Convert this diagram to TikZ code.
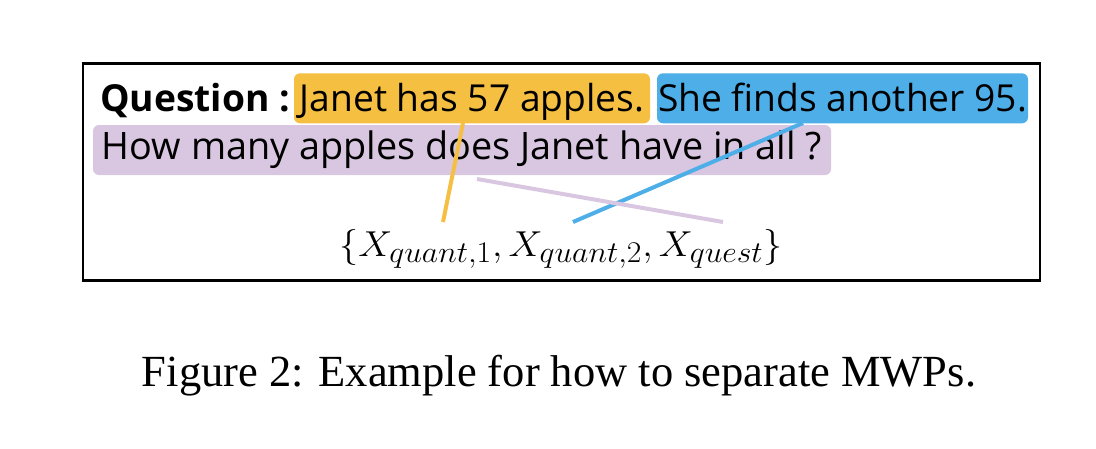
\documentclass[tikz,border=0pt]{standalone}
\usepackage{fontspec}
\setmainfont{Liberation Serif}
\newfontfamily\boxfont{Open Sans}
\usetikzlibrary{calc}
\definecolor{qorange}{RGB}{245,191,65}
\definecolor{qblue}{RGB}{77,174,232}
\definecolor{qpurple}{RGB}{217,199,226}
\tikzset{
  hl/.style={rounded corners=6pt, inner xsep=0pt, inner ysep=0pt, text depth=0pt,
    font=\boxfont\fontsize{37.2}{40}\selectfont},
  link/.style={line width=4pt},
}
\begin{document}
\begin{tikzpicture}[x=1pt,y=-1pt]
\useasboundingbox (0,0) rectangle (1096,448);
\node[draw, line width=2.5pt, minimum width=957pt, minimum height=217pt, inner sep=0pt] (frame) at (561.5,172) {};
\node[hl, fill=qorange, minimum width=356pt, minimum height=50pt, text height=26.8pt] (s1) at (472,98.3) {Janet has 57 apples.};
\node[hl, fill=qblue, minimum width=371pt, minimum height=50pt, text height=26.8pt] (s2) at (842.5,98.3) {She finds another 95.};
\node[hl, fill=qpurple, minimum width=738pt, minimum height=50pt, text height=19pt, font=\boxfont\fontsize{37.8}{40}\selectfont] (q) at (462,150) {How many apples does Janet have in all ?};
\node[anchor=base west, inner sep=0pt, font=\boxfont\bfseries\fontsize{37.2}{40}\selectfont] (lbl) at (100,111.7) {Question :};
\node[anchor=base, inner sep=0pt, font=\fontsize{24.88}{30}\selectfont] (set) at (561,256) {\scalebox{1.53}[1.45]{$\{X_{quant,1},X_{quant,2},X_{quest}\}$}};
\node[anchor=base, inner sep=0pt, font=\fontsize{44.5}{50}\selectfont] (cap) at (559,386.7) {Figure 2: Example for how to separate MWPs.};
\coordinate (o1) at (463,123);
\coordinate (o2) at (443,222);
\coordinate (b1) at (803,123);
\coordinate (b2) at (573,222);
\coordinate (p1) at (477,179);
\coordinate (p2) at (723,222);
\draw[link, qorange] (o1) -- (o2);
\draw[link, qblue] (b1) -- (b2);
\draw[link, qpurple] (p1) -- (p2);
\end{tikzpicture}
\end{document}
